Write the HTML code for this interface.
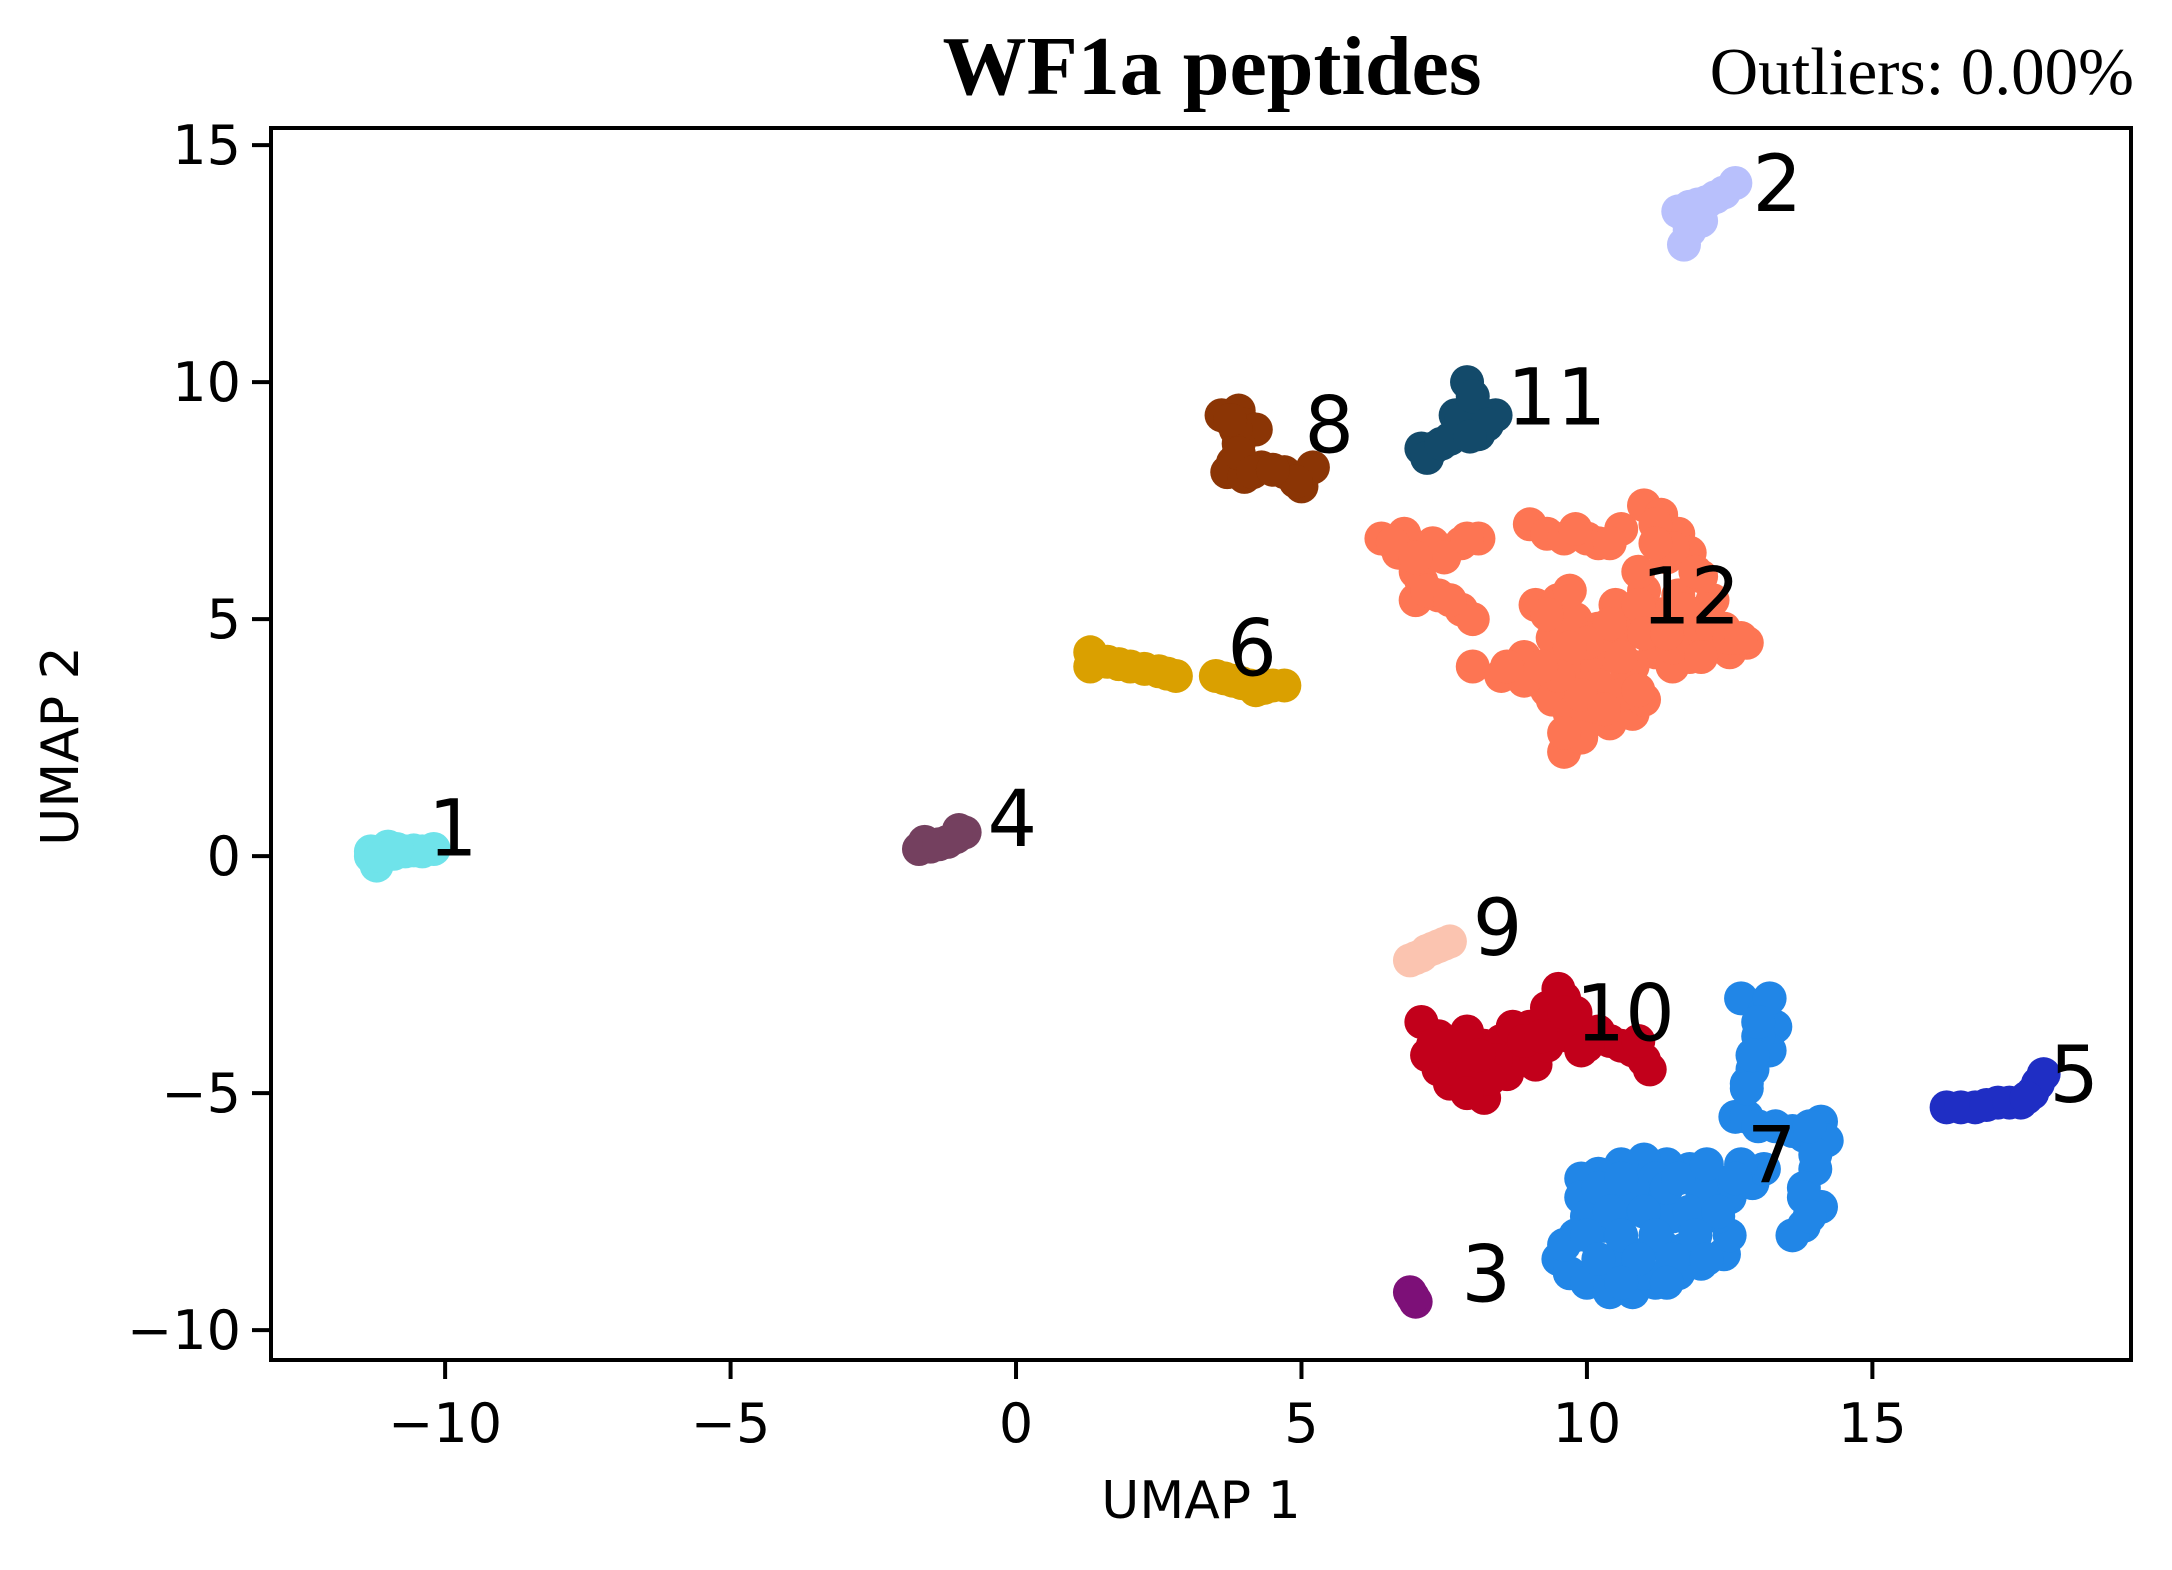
<!DOCTYPE html>
<html><head><meta charset="utf-8"><style>
html,body{margin:0;padding:0;background:#fff;}
svg{display:block;}
</style></head><body>
<svg id="chart" width="2172" height="1570" viewBox="0 0 2172 1570" xmlns="http://www.w3.org/2000/svg">
<rect width="2172" height="1570" fill="#fff"/>
<g id="points"></g>
<g id="labels"></g>
<g id="axes"></g>
<text x="1212" y="94" text-anchor="middle" font-family="Liberation Serif, serif" font-weight="bold" font-size="84">WF1a peptides</text>
<text x="2134" y="94" text-anchor="end" font-family="Liberation Serif, serif" font-size="67">Outliers: 0.00%</text>
<text x="1201" y="1518" text-anchor="middle" font-family="DejaVu Sans, sans-serif" font-size="52">UMAP 1</text>
<text transform="translate(78,746) rotate(-90)" text-anchor="middle" font-family="DejaVu Sans, sans-serif" font-size="52">UMAP 2</text>
</svg>
<script>
const xTicks = [-10, -5, 0, 5, 10, 15];
const yTicks = [-10, -5, 0, 5, 10, 15];
const clusterIds = ["1","2","3","4","5","6","7","8","9","10","11","12"];
const clusterColors = ["#6fe3ea","#b8c0fc","#7d1078","#74405f","#1f2ec4","#daa000","#2186e7","#8b3505","#fbc4b0","#c2001b","#134a6a","#fd7553"];
const labelPos = [[-10.3,0.6],[12.9,14.2],[7.8,-8.8],[-0.5,0.8],[18.1,-4.6],[3.7,4.4],[12.8,-6.3],[5.05,9.1],[8.0,-1.5],[9.8,-3.3],[8.6,9.7],[10.95,5.5]];
const c1 = [[-11.3,0.1],[-11.2,-0.2],[-11,0.2],[-10.7,0.1],[-10.4,0.1],[-10.2,0.15],[-11.3,0.0],[-10.9,0.05],[-11.1,0.0],[-10.55,0.12],[-10.85,0.15]];
const c2 = [[11.6,13.6],[11.8,13.7],[12.1,13.8],[12.4,14.0],[12.6,14.2],[11.8,13.2],[11.7,12.9],[12.0,13.4],[12.25,13.9],[11.95,13.75],[11.75,13.45]];
const c3 = [[6.9,-9.2],[7.0,-9.4],[6.95,-9.3]];
const c4 = [[-1.7,0.15],[-1.5,0.2],[-1.2,0.3],[-0.9,0.5],[-1.0,0.55],[-1.6,0.3],[-1.35,0.25],[-1.05,0.4]];
const c5 = [[16.3,-5.3],[16.8,-5.3],[17.2,-5.2],[17.6,-5.2],[17.8,-5.0],[17.9,-4.8],[18.0,-4.6],[16.55,-5.3],[17.0,-5.25],[17.4,-5.2],[17.7,-5.1]];
const c6 = [[1.3,4.3],[1.3,4.0],[1.6,4.1],[2.0,4.0],[2.5,3.9],[2.8,3.8],[3.5,3.8],[3.8,3.7],[4.1,3.6],[4.5,3.6],[4.7,3.6],[4.2,3.5],[1.8,4.05],[2.25,3.95],[2.65,3.85],[3.65,3.75],[3.95,3.65],[4.35,3.55]];
const c7 = [[12.7,-3.0],[13.1,-3.3],[13.3,-3.6],[13.2,-4.1],[12.9,-4.5],[12.8,-4.8],[12.6,-5.5],[12.8,-5.5],[13.3,-5.7],[13.8,-5.9],[14.1,-5.6],[14.2,-6.0],[14.0,-6.6],[13.8,-7.0],[14.1,-7.4],[13.8,-7.8],[13.6,-8.0],[13.8,-7.2],
[13.0,-3.8],[12.9,-4.2],[13.2,-3.0],[12.8,-4.9],[13.0,-5.7],[13.6,-5.8],[13.9,-7.6],[14.0,-6.3],[13.9,-5.7],[13.0,-3.5],
[9.5,-8.5],[9.7,-8.8],[10.0,-9.0],[10.4,-9.2],[10.8,-9.2],[11.2,-9.0],[11.6,-8.8],[12.0,-8.6],[12.4,-8.4],[12.5,-8.0],[12.3,-7.6],[12.5,-7.2],[12.9,-6.9],[13.1,-6.6],[12.7,-6.5],[12.2,-6.8],[11.8,-6.6],[11.4,-6.5],[11.0,-6.4],[10.6,-6.5],[10.2,-6.7],[9.9,-6.8],[9.9,-7.2],[10.0,-7.6],[9.8,-8.0],[10.3,-7.8],[10.7,-7.4],[11.1,-7.2],[11.5,-7.6],[11.9,-7.9],[11.3,-8.2],[10.8,-8.4],[10.4,-8.6],[11.0,-8.8],[11.7,-8.3],[10.5,-7.0],[11.2,-6.8],[12.0,-7.3],[9.6,-8.2],
[10.2,-7.0],[10.8,-7.0],[11.4,-7.0],[12.0,-7.0],[10.4,-7.5],[11.0,-7.5],[11.8,-7.5],[12.3,-7.5],[10.0,-8.0],[10.6,-8.0],[11.2,-8.0],[11.9,-8.0],[10.2,-8.5],[10.9,-8.5],[11.5,-8.5],[12.1,-8.5],[10.6,-9.0],[11.4,-9.0],[10.6,-6.8],[11.6,-6.8],[12.6,-6.8],[12.1,-6.5]];
const c8 = [[3.6,9.3],[3.9,9.4],[4.0,9.1],[4.2,9.0],[3.9,8.7],[3.8,8.3],[3.7,8.1],[4.0,8.0],[4.3,8.2],[4.7,8.1],[5.0,7.8],[5.2,8.2],[4.9,7.9],[3.85,9.0],[3.9,8.5],[4.15,8.1],[4.5,8.15],[3.75,9.2]];
const c9 = [[6.9,-2.2],[7.2,-2.0],[7.4,-1.9],[7.6,-1.8],[7.1,-2.1],[7.0,-2.15],[7.3,-1.95],[7.5,-1.85]];
const c10 = [[7.1,-3.5],[7.4,-3.8],[7.2,-4.2],[7.4,-4.5],[7.6,-4.8],[8.0,-4.9],[8.2,-5.1],[7.8,-4.3],[8.2,-4.0],[8.5,-3.9],[8.8,-4.2],[9.1,-4.4],[9.3,-4.0],[9.0,-3.6],[9.3,-3.2],[9.6,-3.0],[9.8,-3.3],[9.7,-3.8],[10.0,-4.0],[10.4,-3.9],[10.8,-4.1],[11.0,-4.3],[11.1,-4.5],[8.6,-4.6],[9.5,-2.8],[7.9,-3.7],[8.7,-3.6],
[7.3,-4.0],[7.7,-4.5],[8.0,-4.5],[8.4,-4.3],[8.9,-3.9],[9.4,-3.6],[9.8,-3.6],[10.2,-3.7],[10.6,-4.0],[9.6,-3.3],[9.2,-3.8],[8.3,-4.7],[7.9,-5.0],[10.9,-3.9],[9.9,-4.1],[7.6,-4.0],[8.1,-4.2]];
const c11 = [[7.1,8.6],[7.3,8.6],[7.2,8.4],[7.6,8.8],[7.9,9.0],[8.0,9.4],[7.9,10.0],[8.2,9.3],[8.4,9.3],[8.1,8.9],[7.7,9.3],[7.45,8.7],[7.8,9.2],[8.0,9.7],[8.25,9.1],[7.95,8.85]];
const c12 = [[6.4,6.7],[6.8,6.8],[6.7,6.4],[7.0,6.0],[7.0,5.4],[7.4,5.5],[7.8,5.2],[8.0,5.0],[7.3,6.6],[7.8,6.6],[8.1,6.7],[7.5,6.3],
[9.0,7.0],[9.3,6.8],[9.6,6.7],[10.2,6.6],[10.6,6.9],[11.0,7.4],[11.3,7.2],[11.6,6.8],[11.8,6.4],[12.0,5.9],[12.2,5.4],[12.4,4.8],[12.8,4.5],[12.5,4.3],[12.1,4.5],
[9.1,5.3],[9.5,5.4],[9.8,5.0],[10.2,4.8],[10.5,4.5],[10.9,4.9],[11.3,5.1],[11.6,4.8],[11.9,4.6],[11.2,4.3],[10.8,4.0],[10.3,4.2],[10.0,3.9],[9.6,4.0],[9.3,3.5],[8.9,4.2],[8.0,4.0],[8.5,3.8],[8.9,3.7],[9.4,3.3],[9.7,3.0],[10.0,2.9],[10.4,2.8],[10.8,3.0],[11.0,3.3],[9.6,2.2],[9.9,2.5],[10.7,3.8],[11.5,4.0],[11.8,4.2],[10.1,4.6],[9.4,4.6],[11.0,5.6],[11.6,5.5],[10.5,5.3],[10.9,6.0],[11.4,6.3],[12.2,4.8],
[10.0,6.7],[10.4,6.6],[9.8,6.9],[11.2,7.0],[11.5,6.5],[11.9,6.0],[12.1,5.2],[11.7,5.2],[10.9,5.3],[10.4,4.9],[10.0,4.5],[9.7,4.4],[10.6,4.2],[11.5,4.4],[12.0,4.2],[12.5,4.6],[10.2,3.6],[10.6,3.4],[9.9,3.4],[9.5,3.8],[9.2,4.0],[8.6,4.0],[10.9,3.5],[9.3,5.1],[9.7,5.6],[7.1,5.8],[7.2,5.6],[6.6,6.6],[7.9,6.7],[11.0,4.7],[11.4,4.7],[10.3,3.1],[7.6,5.4],[7.0,6.3],[9.6,2.6],[12.7,4.6],[11.2,6.6]];
const clusterPoints = [c1,c2,c3,c4,c5,c6,c7,c8,c9,c10,c11,c12];

const NS = "http://www.w3.org/2000/svg";
const plot = {left:271, right:2131, top:128, bottom:1360};
const xMin = -13.05, xMax = 19.53, yMin = -10.63, yMax = 15.36;
function xScale(v){ return plot.left + (v - xMin) / (xMax - xMin) * (plot.right - plot.left); }
function yScale(v){ return plot.bottom - (v - yMin) / (yMax - yMin) * (plot.bottom - plot.top); }
function mk(tag, attrs){ const e = document.createElementNS(NS, tag); for (const k in attrs) e.setAttribute(k, attrs[k]); return e; }

const gp = document.getElementById('points');
clusterPoints.forEach((pts, ci) => {
  const g = mk('g', {fill: clusterColors[ci]});
  
  
  pts.forEach(p => {
    const c = mk('circle', {cx: xScale(p[0]), cy: yScale(p[1]), r: 17});
    
    
    g.appendChild(c);
  });
  gp.appendChild(g);
});

const gl = document.getElementById('labels');
labelPos.forEach((p, i) => {
  const t = mk('text', {x: xScale(p[0]), y: yScale(p[1]) + 28, 'font-family': 'DejaVu Sans, sans-serif', 'font-size': 78, fill: '#000'});
  
  
  t.textContent = clusterIds[i];
  gl.appendChild(t);
});

const ga = document.getElementById('axes');
const frame = mk('rect', {x: plot.left, y: plot.top, width: plot.right - plot.left, height: plot.bottom - plot.top, fill: 'none', stroke: '#000', 'stroke-width': 4});


ga.appendChild(frame);
xTicks.forEach(v => {
  const x = xScale(v);
  const l = mk('line', {x1: x, x2: x, y1: plot.bottom, y2: plot.bottom + 19, stroke: '#000', 'stroke-width': 4});
  
  
  ga.appendChild(l);
  const t = mk('text', {x: x, y: plot.bottom + 82, 'text-anchor': 'middle', 'font-family': 'DejaVu Sans, sans-serif', 'font-size': 54});
  
  
  t.textContent = v < 0 ? '\u2212' + Math.abs(v) : String(v);
  ga.appendChild(t);
});
yTicks.forEach(v => {
  const y = yScale(v);
  const l = mk('line', {x1: plot.left - 19, x2: plot.left, y1: y, y2: y, stroke: '#000', 'stroke-width': 4});
  
  
  ga.appendChild(l);
  const t = mk('text', {x: plot.left - 30, y: y + 19, 'text-anchor': 'end', 'font-family': 'DejaVu Sans, sans-serif', 'font-size': 54});
  
  
  t.textContent = v < 0 ? '\u2212' + Math.abs(v) : String(v);
  ga.appendChild(t);
});
</script>
</body></html>
